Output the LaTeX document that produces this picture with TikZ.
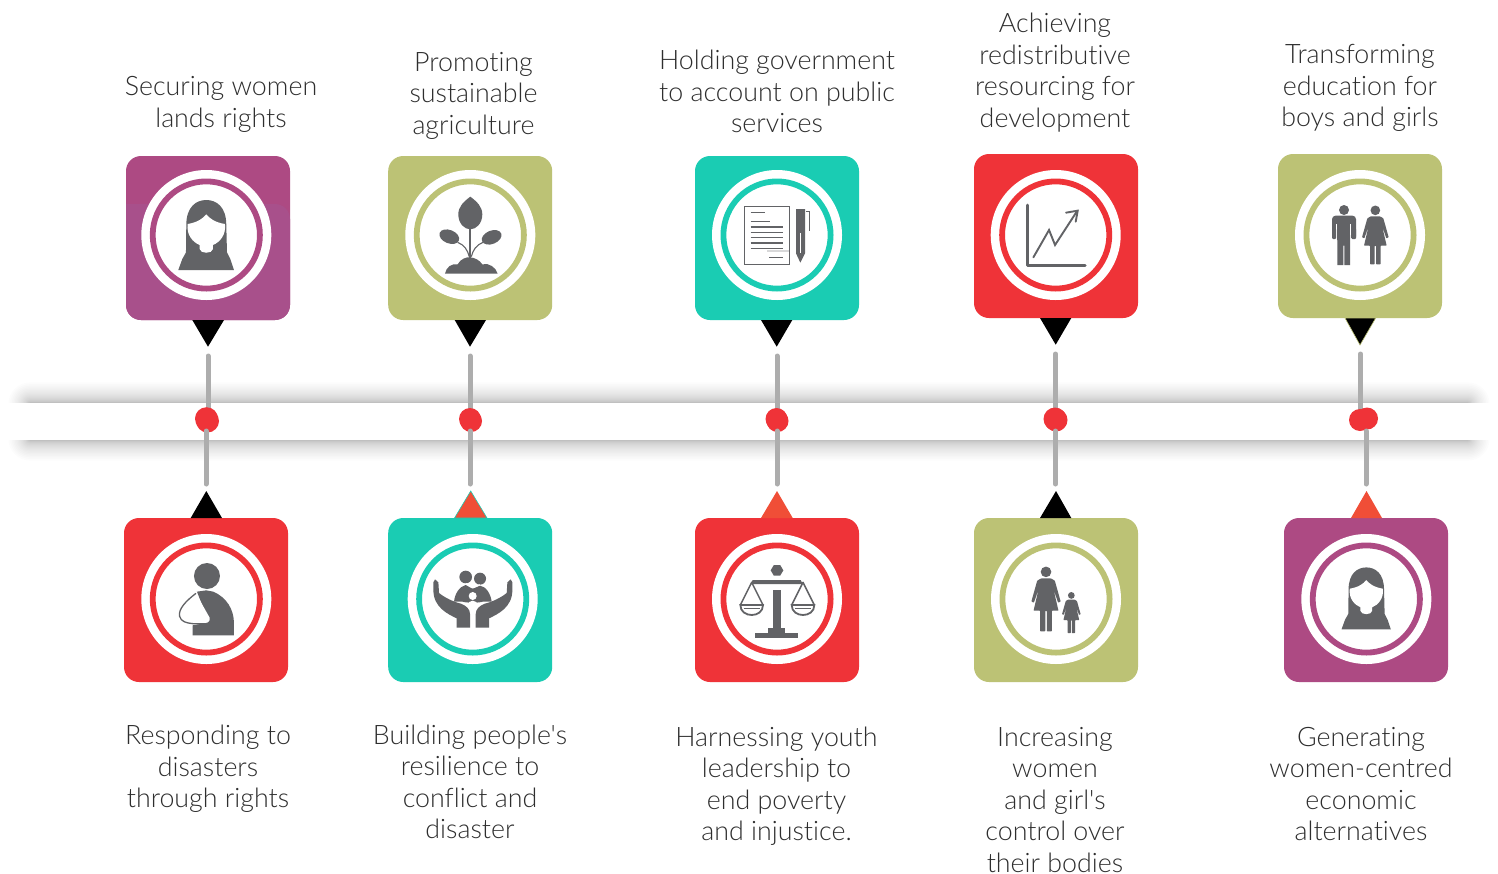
\documentclass[tikz,border=0pt]{standalone}
\usepackage{fontspec}
\setmainfont{Lato Light}[Ligatures={NoCommon,TeXOff}]
\definecolor{cpurple}{HTML}{AD4A83}
\definecolor{cpurpleb}{HTML}{A8508B}
\definecolor{cgreen}{HTML}{BCC275}
\definecolor{cteal}{HTML}{1ACCB3}
\definecolor{cred}{HTML}{EF3338}
\definecolor{corange}{HTML}{F04E37}
\definecolor{cicon}{HTML}{626366}
\definecolor{cline}{HTML}{ADADAD}
\definecolor{ctext}{HTML}{2E2E2E}
\tikzset{
  pinbox/.style={rectangle,rounded corners=15pt,minimum size=164pt,inner sep=0pt,fill=#1},
  lbl/.style={align=center,text=ctext,inner sep=0pt,yshift=-4.5pt,font=\fontsize{26.8}{31.5}\selectfont,
    execute at begin node=\strut,execute at end node=\strut},
  stem/.style={draw=cline,line width=5pt,line cap=round},
  dotn/.style={circle,fill=cred,inner sep=0pt,minimum size=#1},
  icf/.style={fill=cicon},
  ics/.style={draw=cicon},
}
% ---- icons, in units of a third of a pixel about the circle's centre
\newcommand\icWoman{%
  \fill[icf] (-84,105) -- (-72,72) .. controls (-68,62) and (-62,58) .. (-61,52) -- (-60,-30)
    .. controls (-60,-85) and (-30,-105) .. (0,-105) .. controls (30,-105) and (60,-85) .. (60,-30)
    -- (62,52) .. controls (64,58) and (68,62) .. (72,72) -- (83,105) -- cycle;
  \fill[white] (-56,-33) .. controls (-25,-38) and (-10,-50) .. (0,-62)
    .. controls (10,-50) and (25,-38) .. (56,-33) .. controls (60,0) and (40,22) .. (20,30)
    -- (20,42) .. controls (18,57) and (-18,57) .. (-20,42) -- (-20,30)
    .. controls (-40,22) and (-60,0) .. (-56,-33) -- cycle;}
\newcommand\icPlant{%
  \fill[icf] (0,-115) .. controls (20,-100) and (36,-85) .. (36,-62) .. controls (36,-35) and (18,-17) .. (0,-17)
    .. controls (-18,-17) and (-36,-35) .. (-36,-62) .. controls (-36,-85) and (-20,-100) .. (0,-115) -- cycle;
  \draw[ics,line width=2pt] (0,-20) -- (0,70);
  \fill[icf,rotate around={-22:(-63,5)}] (-63,5) ellipse (31 and 20);
  \fill[icf,rotate around={22:(64,7)}] (64,7) ellipse (31 and 20);
  \draw[ics,line width=1.1pt] (-3,65) .. controls (-8,45) and (-18,30) .. (-38,22);
  \draw[ics,line width=1.1pt] (3,65) .. controls (8,45) and (18,30) .. (38,22);
  \fill[icf] (-76,116) .. controls (-72,95) and (-55,85) .. (-38,88) .. controls (-30,72) and (-10,65) .. (0,67)
    .. controls (12,68) and (28,75) .. (36,88) .. controls (55,82) and (78,98) .. (82,116) -- cycle;}
\newcommand\icDoc{%
  \draw[ics,line width=.9pt] (-99,-87) rectangle (37,88);
  \foreach \yy/\xa/\xb in {-67/-79/-36,-40/-79/-21,-24/-79/19,-8/-79/19,8/-79/19,24/-79/19,40/-79/19,67/-24/19}
    \draw[ics,line width=1.2pt] (\xa,\yy) -- (\xb,\yy);
  \fill[cicon!25] (-31,44) rectangle (37,52);
  \fill[icf] (57,-78) -- (84,-78) -- (84,55) -- (70,83) -- (57,55) -- cycle;
  \draw[white,line width=.8pt] (70,-5) -- (70,55);
  \draw[ics,line width=.9pt] (87,-70) -- (97,-70) -- (97,-12);}
\newcommand\icChart{%
  \draw[ics,line width=3pt,line cap=round,line join=round] (-84,-90) -- (-84,90) -- (88,90);
  \draw[ics,line width=1.9pt,line cap=round] (-67,67) -- (-20,-15) -- (-2,30) -- (63,-70);
  \draw[ics,line width=1.9pt,line cap=round,line join=miter] (31,-67) -- (66,-73) -- (60,-40);}
\newcommand\icMan{%
  \fill[icf] (-48,-75) circle (15);
  \fill[icf,rounded corners=3.5pt] (-84,15) -- (-84,-58) -- (-12,-58) -- (-12,15) -- cycle;
  \fill[white] (-72,-32) rectangle (-68,18);
  \fill[white] (-30,-32) rectangle (-26,18);
  \fill[white] (-84.5,8) rectangle (-72,18);
  \fill[white] (-26,8) rectangle (-11.5,18);
  \fill[icf,rounded corners=1pt] (-84,12) -- (-84,-20) -- (-72,-20) -- (-72,12) -- cycle;
  \fill[icf,rounded corners=1pt] (-26,12) -- (-26,-20) -- (-12,-20) -- (-12,12) -- cycle;
  \fill[icf] (-68,0) -- (-30,0) -- (-30,90) -- (-47,90) -- (-47,32) -- (-50,32) -- (-50,90) -- (-68,90) -- cycle;}
\newcommand\icLady{%
  \fill[icf] (0,-74) circle (14.5);
  \fill[icf,rounded corners=.6pt] (-14,-56) -- (14,-56) -- (24,-50) -- (40,7) -- (33,10) -- (20,-28) -- (34,32) -- (16,32)
    -- (16,88) -- (2,88) -- (2,32) -- (-2,32) -- (-2,88) -- (-16,88) -- (-16,32) -- (-34,32) -- (-20,-28) -- (-33,10)
    -- (-40,7) -- (-24,-50) -- cycle;}
\newcommand\icPeople{\icMan\begin{scope}[shift={(46,0)}]\icLady\end{scope}}
\newcommand\icMother{%
  \begin{scope}[shift={(-30,0)},scale=1.1]\icLady\end{scope}
  \begin{scope}[shift={(46,41)},scale=.7]\icLady\end{scope}}
\newcommand\icInjured{%
  \fill[icf] (2,-69) circle (39);
  \fill[icf] (-28,-22) -- (0,-26) -- (21,-22) .. controls (60,-5) and (83,30) .. (83,73) -- (83,109) -- (-41,109) -- (-41,79) -- (8,70) -- cycle;
  \fill[white] (-31,-17) .. controls (-60,5) and (-85,30) .. (-80,52) .. controls (-76,68) and (-60,72) .. (-40,74)
    -- (0,74) .. controls (10,72) and (12,62) .. (10,56) -- cycle;
  \draw[ics,line width=1.3pt] (-31,-17) .. controls (-60,5) and (-85,30) .. (-80,52) .. controls (-76,68) and (-60,72) .. (-40,74) -- (0,74) .. controls (6,73) and (10,70) .. (11,66);}
\newcommand\icHand{%
  \fill[icf] (-118,-27) -- (-118,-50) -- (-113,-59) -- (-103,-50) -- (-101,-18) .. controls (-85,-5) and (-60,8) .. (-35,14)
    .. controls (-20,20) and (-8,30) .. (-8,45) -- (-8,86) -- (-48,86) -- (-48,58) .. controls (-75,45) and (-118,25) .. (-118,-27) -- cycle;}
\newcommand\icCare{%
  \fill[icf] (-21,-66) circle (19);
  \fill[icf] (22,-61) circle (18);
  \fill[icf] (-56,8) .. controls (-54,-15) and (-40,-38) .. (-21,-42) -- (-3,-32) -- (3,-32) -- (22,-40)
    .. controls (40,-38) and (54,-15) .. (57,8) -- (30,8) .. controls (20,12) and (-20,12) .. (-30,8) -- cycle;
  \draw[white,line width=1pt] (-21,-47) -- (0,-34) -- (22,-43);
  \fill[white] (0,-9) circle (12);
  \fill[white] (-16,20) .. controls (-12,0) and (12,0) .. (16,20) -- cycle;
  \icHand
  \begin{scope}[xscale=-1,shift={(-1,0)}]\icHand\end{scope}}
\newcommand\icScales{%
  \fill[icf] (19,-86) -- (9.5,-70) -- (-9.5,-70) -- (-19,-86) -- (-9.5,-102) -- (9.5,-102) -- cycle;
  \fill[icf] (-79,-45) -- (-73,-57) -- (71,-57) -- (77,-45) -- cycle;
  \fill[icf] (-13,-26) rectangle (11,90);
  \fill[icf] (-27,86) rectangle (25,104);
  \fill[icf] (-66,103) rectangle (64,116);
  \foreach \cc in {-76,78}{
    \draw[ics,line width=1.5pt,line join=round] (\cc-34,18) -- (\cc,-50) -- (\cc+34,18);
    \draw[ics,line width=1.8pt] (\cc-34,18) -- (\cc+34,18) .. controls (\cc+34,58) and (\cc-34,58) .. (\cc-34,18) -- cycle;
    \draw[ics,line width=.8pt] (\cc-24,27) -- (\cc+24,27);
  }}
% disc: x, y, colour, icon
\newcommand\myDisc[4]{%
  \fill[white] (#1,#2) circle (65);
  \draw[#3,line width=5.8pt] (#1,#2) circle (53.6);
  \begin{scope}[shift={(#1,#2)},x=.3333pt,y=-.3333pt]#4\end{scope}}
\newcommand\myPin[7]{%
  \node[pinbox=#6] (box#1) at (#2,#3) {};
  \myDisc{#4}{#5}{#6}{#7}}
\begin{document}
\begin{tikzpicture}[x=1pt,y=-1pt]
\useasboundingbox (0,0) rectangle (1498,873);
\fill[white] (0,0) rectangle (1498,873);
% band with its soft shadow
\foreach \i in {0,1,...,24}{
  \pgfmathsetmacro\off{\i*\i/28}
  \pgfmathsetmacro\rad{\off+1}
  \fill[black,opacity=.0115,rounded corners=\rad pt] (29-\off,403-\off) rectangle (1469+\off,440+\off);
}
\fill[white] (0,403) rectangle (1498,440);
% pins
\node[pinbox=cpurple] (boxa) at (208,238) {};
\fill[cpurpleb] (126,204) [rounded corners=15pt] -- (126,320) -- (290,320) -- (290,204) [sharp corners] -- cycle;
\myDisc{206.3}{235}{cpurple}{\icWoman}
\myPin{b}{470.2}{238}{470.3}{235}{cgreen}{\icPlant}
\myPin{c}{777}{238}{777}{235}{cteal}{\icDoc}
\myPin{d}{1056}{236}{1055.7}{235}{cred}{\icChart}
\myPin{e}{1360}{236}{1360}{235}{cgreen}{\icPeople}
\myPin{f}{206}{600}{206.3}{599}{cred}{\icInjured}
\myPin{g}{470.2}{600}{472.7}{599}{cteal}{\icCare}
\myPin{h}{777}{600}{777}{599}{cred}{\icScales}
\myPin{i}{1056}{600}{1056}{599}{cgreen}{\icMother}
\myPin{j}{1366}{600}{1366.3}{599}{cpurple}{\begin{scope}[scale=.886,shift={(0,-2)}]\icWoman\end{scope}}
% triangles
\fill[black] (192.3,320) -- (224,320) -- (208,346.7) -- cycle;
\fill[black] (454.7,320) -- (486,320) -- (470,346.7) -- cycle;
\fill[black] (761,320) -- (792.3,320) -- (776.7,346.7) -- cycle;
\fill[black] (1040,318) -- (1071.3,318) -- (1055.7,344.7) -- cycle;
\draw[cgreen,fill=black,line width=.6pt] (1345,318) -- (1375.7,318) -- (1360,345) -- cycle;
\fill[black] (190.7,518) -- (222,518) -- (206.3,491) -- cycle;
\draw[cteal,fill=corange,line width=.6pt] (454.5,518) -- (487,518) -- (470.7,491) -- cycle;
\fill[corange] (761,518) -- (792.7,518) -- (777,491) -- cycle;
\fill[black] (1040,518) -- (1071.3,518) -- (1056,491) -- cycle;
\fill[corange] (1351,518) -- (1382,518) -- (1366.5,491) -- cycle;
% timeline dots and stems
\coordinate (ta) at (208,356);
\coordinate (tb) at (470,356);
\coordinate (tc) at (777,356);
\coordinate (td) at (1055.5,354);
\coordinate (te) at (1360.5,354);
\coordinate (ua) at (208,412);
\coordinate (ub) at (470,412);
\coordinate (uc) at (777,412);
\coordinate (ud) at (1055.5,412);
\coordinate (ue) at (1360.5,412);
\draw[stem] (ta) -- (ua);
\draw[stem] (tb) -- (ub);
\draw[stem] (tc) -- (uc);
\draw[stem] (td) -- (ud);
\draw[stem] (te) -- (ue);
\node[dotn=23pt] (da) at (206.5,418.7) {};
\node[dotn=23pt] (da2) at (207.5,421) {};
\node[dotn=22pt] (db) at (470,419) {};
\node[dotn=22pt] (db2) at (471,421) {};
\node[dotn=22pt] (dc) at (776.5,419) {};
\node[dotn=22pt] (dc2) at (777.5,421) {};
\node[dotn=23pt] (dd) at (1055,419) {};
\node[dotn=23pt] (dd2) at (1056,420) {};
\node[dotn=22pt] (de) at (1360,420) {};
\node[dotn=22pt] (de2) at (1367,418.5) {};
\coordinate (va) at (206,431);
\coordinate (vb) at (470,431);
\coordinate (vc) at (777,431);
\coordinate (vd) at (1055.5,431);
\coordinate (ve) at (1366,431);
\coordinate (wa) at (206,484);
\coordinate (wb) at (470,484);
\coordinate (wc) at (777,484);
\coordinate (wd) at (1055.5,484);
\coordinate (we) at (1366,484);
\draw[stem] (va) -- (wa);
\draw[stem] (vb) -- (wb);
\draw[stem] (vc) -- (wc);
\draw[stem] (vd) -- (wd);
\draw[stem] (ve) -- (we);
% labels
\node[lbl] (la) at (221,102) {Securing women\\lands rights};
\node[lbl] (lb) at (473.5,93.5) {Promoting\\sustainable\\agriculture};
\node[lbl] (lc) at (777,91.5) {Holding government\\to account on public\\services};
\node[lbl] (ld) at (1055,70.5) {Achieving\\redistributive\\resourcing for\\development};
\node[lbl] (le) at (1360,86) {Transforming\\education for\\boys and girls};
\node[lbl] (lf) at (208,766.5) {Responding to\\disasters\\through rights};
\node[lbl] (lg) at (470,782) {Building people's\\resilience to\\conflict and\\disaster};
\node[lbl] (lh) at (776.5,784) {Harnessing youth\\leadership to\\end poverty\\and injustice.};
\node[lbl,anchor=south,text depth=0pt,execute at begin node={},execute at end node={}] (li) at (1055,867.8) {Increasing\\women\\and girl's\\control over\\their bodies};
\node[lbl] (lj) at (1361,784) {Generating\\women-centred\\economic\\alternatives};
\end{tikzpicture}
\end{document}
